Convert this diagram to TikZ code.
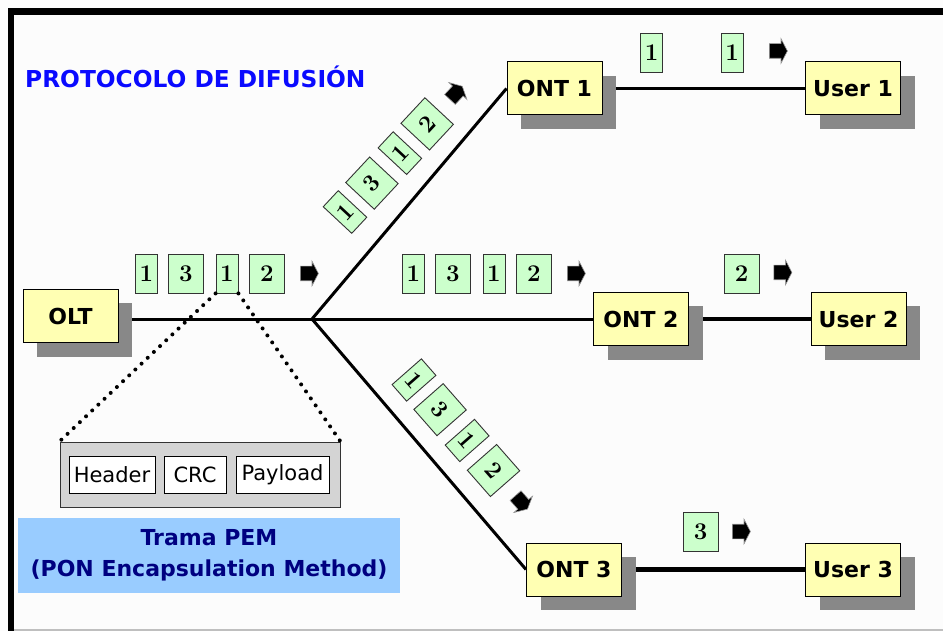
\documentclass[tikz,border=0pt]{standalone}
\usepackage{fontspec}
\newfontfamily\dvs{DejaVu Sans}
\usetikzlibrary{shapes.arrows,shadows}

\definecolor{sheet}{HTML}{FCFCFC}
\definecolor{boxyellow}{HTML}{FFFFB3}
\definecolor{boxshadow}{HTML}{888888}
\definecolor{pkgreen}{HTML}{CCFFCC}
\definecolor{titleblue}{HTML}{0A0AFF}
\definecolor{labelblue}{HTML}{99CCFF}
\definecolor{labelnavy}{HTML}{000080}
\definecolor{pemgray}{HTML}{D4D4D4}

\pgfdeclarelayer{back}
\pgfsetlayers{back,main}

% one frame of packets 1 3 1 2 followed by a direction pointer
\newcommand\packetrow[1]{%
  \node[pkn] (#1a) at (0,0) {1};
  \node[pkw] (#1b) at (39.5,0) {3};
  \node[pkn] (#1c) at (80.5,0) {1};
  \node[pkw] (#1d) at (120.5,0) {2};
  \node[ptr] (#1e) at (161,0) {};%
}

\begin{document}
\begin{tikzpicture}[x=1pt,y=-1pt,
  station/.style={draw=black, line width=1pt, fill=boxyellow,
    minimum width=95pt, minimum height=53pt, inner sep=0pt,
    font=\dvs\bfseries\fontsize{22}{22}\selectfont,
    drop shadow={shadow xshift=14pt, shadow yshift=-14pt,
      fill=boxshadow, opacity=1}},
  pk/.style={draw=black!80, line width=0.9pt, fill=pkgreen,
    minimum height=39pt, inner sep=0pt,
    font=\bfseries\fontsize{24}{24}\selectfont},
  pkn/.style={pk, minimum width=22pt},
  pkw/.style={pk, minimum width=35pt},
  ptr/.style={single arrow, fill=black, draw=gray!80, line width=0.6pt,
    minimum height=18pt, inner xsep=0pt, inner ysep=7pt,
    single arrow head extend=5pt, single arrow tip angle=125},
  fibre/.style={line width=3pt},
  fibrethick/.style={line width=4.5pt},
  dotline/.style={line width=4pt, line cap=round, dash pattern=on 0pt off 8.5pt},
  field/.style={draw=black, line width=1pt, fill=white, minimum height=37pt,
    inner sep=0pt, font=\dvs\fontsize{21}{21}\selectfont}
]
\useasboundingbox (0,0) rectangle (943,631);

% sheet and frame
\begin{pgfonlayer}{back}
  \fill[sheet] (0,0) rectangle (943,631);
\end{pgfonlayer}
\fill[black] (8,8) rectangle (943,15);
\fill[black] (8,8) rectangle (14,631);
\draw[gray!50, line width=1.5pt] (14,630) -- (943,630);

% title
\node[anchor=west, inner sep=0pt, text=titleblue,
  font=\dvs\bfseries\fontsize{23.3}{23}\selectfont] (title) at (25,77)
  {PROTOCOLO DE DIFUSIÓN};

% network elements
\node[station] (olt) at (70.5,316) {OLT};
\node[station] (ont1) at (554.5,88.5) {ONT 1};
\node[station] (ont2) at (641,319) {ONT 2};
\node[station] (ont3) at (574,569.5) {ONT 3};
\node[station] (user1) at (853,88.5) {User 1};
\node[station] (user2) at (858.5,319) {User 2};
\node[station] (user3) at (853,569.5) {User 3};
\coordinate (j) at (312,319);

% fibres
\begin{pgfonlayer}{back}
  \draw[fibre] (j -| olt.east) -- (j);
  \draw[fibre] (j) -- (ont1.west);
  \draw[fibre] (j) -- (ont2.west);
  \draw[fibre] (j) -- (ont3.west);
  \draw[fibre] (ont1) -- (user1);
  \draw[fibrethick] (ont2) -- (user2);
  \draw[fibrethick] (ont3) -- (user3);
\end{pgfonlayer}

% broadcast frames
\begin{scope}[shift={(146.5,273.5)}]
  \packetrow{olt}
\end{scope}
\begin{scope}[shift={(413.5,273.5)}]
  \packetrow{mid}
\end{scope}
\begin{scope}[shift={(345,212)}, rotate=47, transform shape]
  \packetrow{up}
\end{scope}
\begin{scope}[shift={(414,380)}, rotate=-48.7, transform shape]
  \packetrow{low}
\end{scope}

% packets delivered to each user
\node[pkn] (u1a) at (651.5,52.5) {1};
\node[pkn] (u1b) at (732,52.5) {1};
\node[ptr] (u1p) at (776.5,51) {};
\node[pkw] (u2a) at (741.5,274) {2};
\node[ptr] (u2p) at (781,272.5) {};
\node[pkw] (u3a) at (700.5,532) {3};
\node[ptr] (u3p) at (739.5,531.5) {};

% PEM frame layout
\node[draw=black!80, line width=1pt, fill=pemgray,
  minimum width=280pt, minimum height=65pt] (pem) at (200,474.5) {};
\node[field, minimum width=86pt] (hdr) at (112,474.5) {Header};
\node[field, minimum width=62pt] (crc) at (195,474.5) {CRC};
\node[field, minimum width=93pt] (pay) at (282.5,474.5) {Payload};
\draw[dotline] (oltc.south west) -- (pem.north west);
\draw[dotline] (oltc.south east) -- (pem.north east);

\node[fill=labelblue, minimum width=382pt, minimum height=75pt,
  text=labelnavy, align=center,
  font=\dvs\bfseries\fontsize{22}{31}\selectfont] (caption) at (209,555.5)
  {Trama PEM\\(PON Encapsulation Method)};
\end{tikzpicture}
\end{document}
